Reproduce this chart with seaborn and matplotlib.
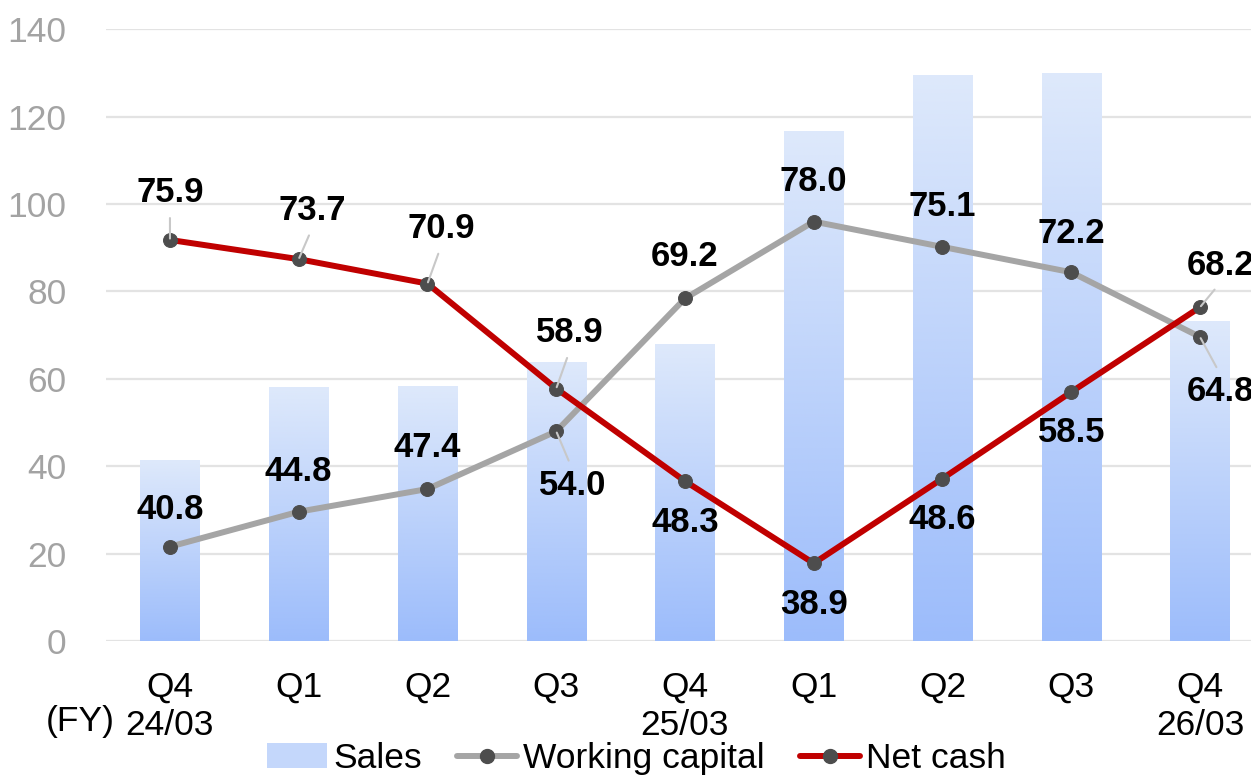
import numpy as np
import matplotlib
matplotlib.use("Agg")
import matplotlib.pyplot as plt
from matplotlib.colors import LinearSegmentedColormap
from matplotlib.patches import Patch
from matplotlib.lines import Line2D
import seaborn as sns

# quarter data (sales on left axis, working capital / net cash on hidden right axis)
periods = ["FY24/03 Q4", "FY25/03 Q1", "FY25/03 Q2", "FY25/03 Q3", "FY25/03 Q4",
           "FY26/03 Q1", "FY26/03 Q2", "FY26/03 Q3", "FY26/03 Q4"]
tick_labels = ["Q4\n24/03", "Q1", "Q2", "Q3", "Q4\n25/03", "Q1", "Q2", "Q3", "Q4\n26/03"]
sales = [41.4, 57.9, 58.3, 63.7, 67.8, 116.5, 129.4, 129.8, 73.2]
working_capital = [40.8, 44.8, 47.4, 54.0, 69.2, 78.0, 75.1, 72.2, 64.8]
net_cash = [75.9, 73.7, 70.9, 58.9, 48.3, 38.9, 48.6, 58.5, 68.2]

# label offsets in points, and which labels get a leader line
wc_offsets = [(0, 27), (0, 29), (0, 30), (11.5, -39), (0, 30), (0, 29), (0, 29), (0, 28), (15, -39.5)]
nc_offsets = [(0, 34), (10, 35), (10, 39.5), (10, 40), (0, -29.5), (0, -29.5), (0, -29.5), (0, -29.5), (15, 30)]
wc_leader = [3, 8]
nc_leader = [0, 1, 2, 3, 8]

sns.set_style("white")
plt.rcParams['font.family'] = ['Liberation Sans', 'DejaVu Sans']
plt.rcParams['text.color'] = 'black'

FS = 25.5

fig = plt.figure(figsize=(12.51, 7.75), dpi=100)
ax = fig.add_axes([0.0844, 0.1728, 0.9263, 0.7894])
ax.set_axisbelow(True)

sns.barplot(x=periods, y=sales, ax=ax, width=0.46, color="#c4d7fb", saturation=1)

# vertical gradient for each bar
cmap = LinearSegmentedColormap.from_list("sales", ["#9cbcfb", "#dee9fb"])
grad = np.linspace(0, 1, 256).reshape(-1, 1)
for bar in list(ax.patches):
    x0, y0 = bar.get_x(), bar.get_y()
    w, h = bar.get_width(), bar.get_height()
    ax.imshow(grad, cmap=cmap, extent=[x0, x0 + w, y0, y0 + h], origin="lower",
              aspect="auto", zorder=1, interpolation="bicubic")
    bar.set_facecolor("none")
    bar.set_edgecolor("none")

ax.set_ylim(0, 140)
ax.set_yticks(range(0, 141, 20))
ax.yaxis.grid(True, color="#e3e3e3", lw=1.6)
ax.xaxis.grid(False)
ax.tick_params(axis="y", length=0, pad=28, labelsize=FS, labelcolor="#a3a3a3")
ax.tick_params(axis="x", length=0, pad=21, labelsize=FS, labelcolor="black")
ax.set_xticks(range(len(periods)))
ax.set_xticklabels(tick_labels, linespacing=1.22)
ax.set(xlabel="", ylabel="")
for s in ax.spines.values():
    s.set_visible(False)

# lines on secondary axis
ax2 = ax.twinx()
xpos = np.arange(len(periods))
sns.lineplot(x=xpos, y=working_capital, ax=ax2, color="#a5a5a5", lw=4.3, marker="o",
             markersize=10, markerfacecolor="#4d4d4d", markeredgecolor="#4d4d4d", zorder=3)
sns.lineplot(x=xpos, y=net_cash, ax=ax2, color="#c00000", lw=4.3, marker="o",
             markersize=10, markerfacecolor="#4d4d4d", markeredgecolor="#4d4d4d", zorder=4)
ax2.set_ylim(30, 100)
ax2.set_yticks([])
ax2.set(xlabel="", ylabel="")
for s in ax2.spines.values():
    s.set_visible(False)


def add_labels(values, offsets, leaders):
    for i, v in enumerate(values):
        dx, dy = offsets[i]
        arrow = None
        if i in leaders:
            arrow = dict(arrowstyle="-", color="#c8c8c8", lw=1.5, shrinkA=4, shrinkB=1,
                         relpos=(0.5, 0) if dy > 0 else (0.5, 1))
        ax2.annotate(f"{v:.1f}", xy=(i, v), xytext=(dx, dy), textcoords="offset points",
                     ha="center", va="center", fontsize=25, fontweight="bold",
                     color="black", arrowprops=arrow, zorder=6)


add_labels(working_capital, wc_offsets, wc_leader)
add_labels(net_cash, nc_offsets, nc_leader)

ax.set_xlim(-0.5, len(periods) - 0.5)

fig.text(0.064, 0.0684, "(FY)", fontsize=FS, ha="center", va="center", color="black")

handles = [
    Patch(facecolor="#c4d7fb", edgecolor="none"),
    Line2D([], [], color="#a5a5a5", lw=4.3, marker="o", markersize=10,
           markerfacecolor="#4d4d4d", markeredgecolor="#4d4d4d"),
    Line2D([], [], color="#c00000", lw=4.3, marker="o", markersize=10,
           markerfacecolor="#4d4d4d", markeredgecolor="#4d4d4d"),
]
leg = fig.legend(handles, ["Sales", "Working capital", "Net cash"], loc="center",
                 bbox_to_anchor=(0.5088, 0.021), ncol=3, frameon=False, fontsize=FS,
                 handlelength=1.7, handletextpad=0.16, columnspacing=1.0, borderpad=0)
for t in leg.get_texts():
    t.set_color("black")

plt.savefig("out.png", dpi=100)
